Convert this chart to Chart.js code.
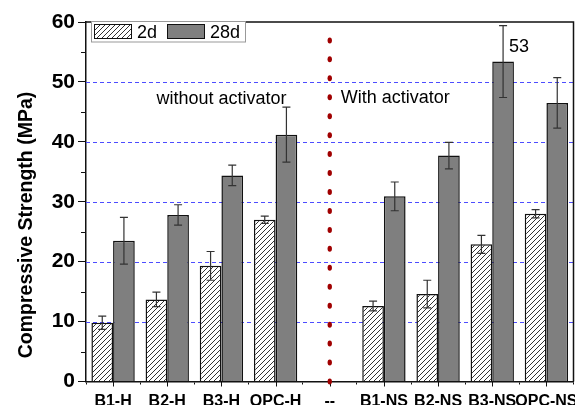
<!DOCTYPE html>
<html>
<head>
<meta charset="utf-8">
<script src="https://cdn.jsdelivr.net/npm/chart.js@4.4.0/dist/chart.umd.min.js"></script>
<style>
    html, body { margin: 0; padding: 0; background: #fff; }
</style>
</head>
<body>
<canvas id="chart_barras" width="575" height="405"></canvas>
<script>
var categorias = ['B1-H', 'B2-H', 'B3-H', 'OPC-H', '--', 'B1-NS', 'B2-NS', 'B3-NS', 'OPC-NS'];
var valores_2d = [9.8, 13.7, 19.3, 27.0, null, 12.6, 14.6, 22.9, 28.0];
var errores_2d = [1.1, 1.2, 2.4, 0.6, null, 0.8, 2.3, 1.5, 0.7];
var valores_28d = [23.5, 27.8, 34.4, 41.2, null, 30.9, 37.7, 53.4, 46.5];
var errores_28d = [3.9, 1.7, 1.7, 4.6, null, 2.4, 2.2, 6.0, 4.2];
var eje_y = { min: 0, max: 60, paso: 10 };

var fuente = "'Liberation Sans', Arial, sans-serif";

// patron rayado para la serie 2d
function crearRayado() {
    var s = 5;
    var c = document.createElement('canvas');
    c.width = s; c.height = s;
    var g = c.getContext('2d');
    g.fillStyle = '#fff';
    g.fillRect(0, 0, s, s);
    g.strokeStyle = '#333';
    g.lineWidth = 1;
    g.beginPath();
    g.moveTo(0, s); g.lineTo(s, 0);
    g.moveTo(-1, 1); g.lineTo(1, -1);
    g.moveTo(s - 1, s + 1); g.lineTo(s + 1, s - 1);
    g.stroke();
    return g.createPattern(c, 'repeat');
}
var rayado = crearRayado();

var extras = {
    id: 'extras',
    beforeDatasetsDraw: function(chart) {
        // lineas guia azules discontinuas
        var ctx = chart.ctx, y = chart.scales.y, a = chart.chartArea;
        ctx.save();
        ctx.strokeStyle = '#4d4dff';
        ctx.lineWidth = 1;
        ctx.setLineDash([4, 3]);
        y.ticks.forEach(function(t) {
            if (t.value <= eje_y.min || t.value >= eje_y.max) return;
            var py = Math.round(y.getPixelForValue(t.value)) + 0.5;
            ctx.beginPath();
            ctx.moveTo(a.left, py); ctx.lineTo(a.right, py);
            ctx.stroke();
        });
        ctx.restore();
    },
    afterDatasetsDraw: function(chart) {
        var ctx = chart.ctx, y = chart.scales.y;
        ctx.save();
        ctx.strokeStyle = '#333';
        ctx.lineWidth = 1.2;
        [errores_2d, errores_28d].forEach(function(errs, d) {
            var vals = chart.data.datasets[d].data;
            chart.getDatasetMeta(d).data.forEach(function(bar, i) {
                if (vals[i] == null) return;
                var t = y.getPixelForValue(vals[i] + errs[i]);
                var b = y.getPixelForValue(vals[i] - errs[i]);
                ctx.beginPath();
                ctx.moveTo(bar.x, t); ctx.lineTo(bar.x, b);
                ctx.moveTo(bar.x - 4, t); ctx.lineTo(bar.x + 4, t);
                ctx.moveTo(bar.x - 4, b); ctx.lineTo(bar.x + 4, b);
                ctx.stroke();
            });
        });
        ctx.restore();
    },
    afterDraw: function(chart) {
        var ctx = chart.ctx, x = chart.scales.x, y = chart.scales.y, a = chart.chartArea;
        ctx.save();

        // marco superior y derecho
        ctx.strokeStyle = '#111';
        ctx.lineWidth = 1.5;
        ctx.beginPath();
        ctx.moveTo(a.left, a.top); ctx.lineTo(a.right, a.top); ctx.lineTo(a.right, a.bottom);
        ctx.stroke();

        // ticks menores eje y
        ctx.lineWidth = 1;
        ctx.beginPath();
        for (var v = 5; v < eje_y.max; v += 10) {
            var py = Math.round(y.getPixelForValue(v)) + 0.5;
            ctx.moveTo(a.left - 5, py); ctx.lineTo(a.left, py);
        }
        // ticks en el centro de cada categoria
        for (var i = 0; i < categorias.length; i++) {
            var px = Math.round(x.getPixelForValue(i)) + 0.5;
            ctx.moveTo(px, a.bottom); ctx.lineTo(px, a.bottom + 5);
        }
        ctx.stroke();

        // linea punteada roja
        var xc = x.getPixelForValue(4);
        ctx.fillStyle = '#a00000';
        for (var yy = a.bottom; yy > a.top + 10; yy -= 18.95) {
            ctx.beginPath();
            ctx.ellipse(xc, yy, 2.2, 3, 0, 0, Math.PI * 2);
            ctx.fill();
        }

        // textos
        ctx.fillStyle = '#000';
        ctx.font = '18px ' + fuente;
        ctx.textBaseline = 'alphabetic';
        ctx.textAlign = 'center';
        ctx.fillText('without activator', x.getPixelForValue(2), 104);
        ctx.textAlign = 'left';
        ctx.fillText('With activator', xc + 11, 102.5);
        var barra = chart.getDatasetMeta(1).data[7];
        ctx.fillText('53', barra.x + 6, 52);

        // titulo eje y
        ctx.save();
        ctx.translate(27, 225);
        ctx.rotate(-Math.PI / 2);
        ctx.textAlign = 'center';
        ctx.textBaseline = 'middle';
        ctx.font = 'bold 19.5px ' + fuente;
        ctx.fillText('Compressive Strength (MPa)', 0, 0);
        ctx.restore();

        // leyenda
        ctx.fillStyle = '#fff';
        ctx.fillRect(91, 21, 155, 21);
        ctx.strokeStyle = '#999';
        ctx.lineWidth = 1;
        ctx.strokeRect(91.5, 21.5, 154, 20.5);
        ctx.strokeStyle = '#111';
        ctx.fillStyle = rayado;
        ctx.fillRect(94, 24.5, 38, 14);
        ctx.strokeRect(94.5, 24.5, 37, 14);
        ctx.fillStyle = '#7f7f7f';
        ctx.fillRect(167, 24.5, 38, 14);
        ctx.strokeRect(167.5, 24.5, 37, 14);
        ctx.fillStyle = '#000';
        ctx.font = '18px ' + fuente;
        ctx.textAlign = 'left';
        ctx.fillText(chart.data.datasets[0].label, 137, 38);
        ctx.fillText(chart.data.datasets[1].label, 210, 38);

        ctx.restore();
    }
};

var datos = {
    labels: categorias,
    datasets: [{
        label: '2d',
        data: valores_2d,
        backgroundColor: rayado,
        borderColor: '#111',
        borderWidth: 1.5,
        categoryPercentage: 0.8,
        barPercentage: 1
    }, {
        label: '28d',
        data: valores_28d,
        backgroundColor: '#7f7f7f',
        borderColor: '#111',
        borderWidth: 1.5,
        categoryPercentage: 0.8,
        barPercentage: 1
    }]
};

var canvas = document.getElementById('chart_barras').getContext('2d');
window.barras = new Chart(canvas, {
    type: 'bar',
    data: datos,
    plugins: [extras],
    options: {
        responsive: false,
        animation: false,
        layout: { padding: { top: 22, right: 1.5, left: 0, bottom: 0 } },
        plugins: {
            legend: { display: false },
            tooltip: { enabled: false }
        },
        scales: {
            x: {
                afterFit: function(s) {
                    s.height = 23.5;
                    s.paddingLeft = 0;
                    s.paddingRight = 0;
                },
                grid: {
                    offset: true,
                    drawOnChartArea: false,
                    tickLength: 3,
                    tickColor: '#111'
                },
                border: { display: true, color: '#111', width: 1.5 },
                ticks: {
                    color: '#000',
                    autoSkip: false,
                    maxRotation: 0,
                    padding: 7,
                    font: { family: fuente, size: 16, weight: 'bold' }
                }
            },
            y: {
                min: eje_y.min,
                max: eje_y.max,
                afterFit: function(s) { s.width = 86; },
                grid: {
                    drawOnChartArea: false,
                    tickColor: '#111',
                    tickLength: 8
                },
                border: { display: true, color: '#111', width: 1.5 },
                ticks: {
                    stepSize: eje_y.paso,
                    color: '#000',
                    padding: 3,
                    font: { family: fuente, size: 21, weight: 'bold' }
                }
            }
        }
    }
});
</script>
</body>
</html>
